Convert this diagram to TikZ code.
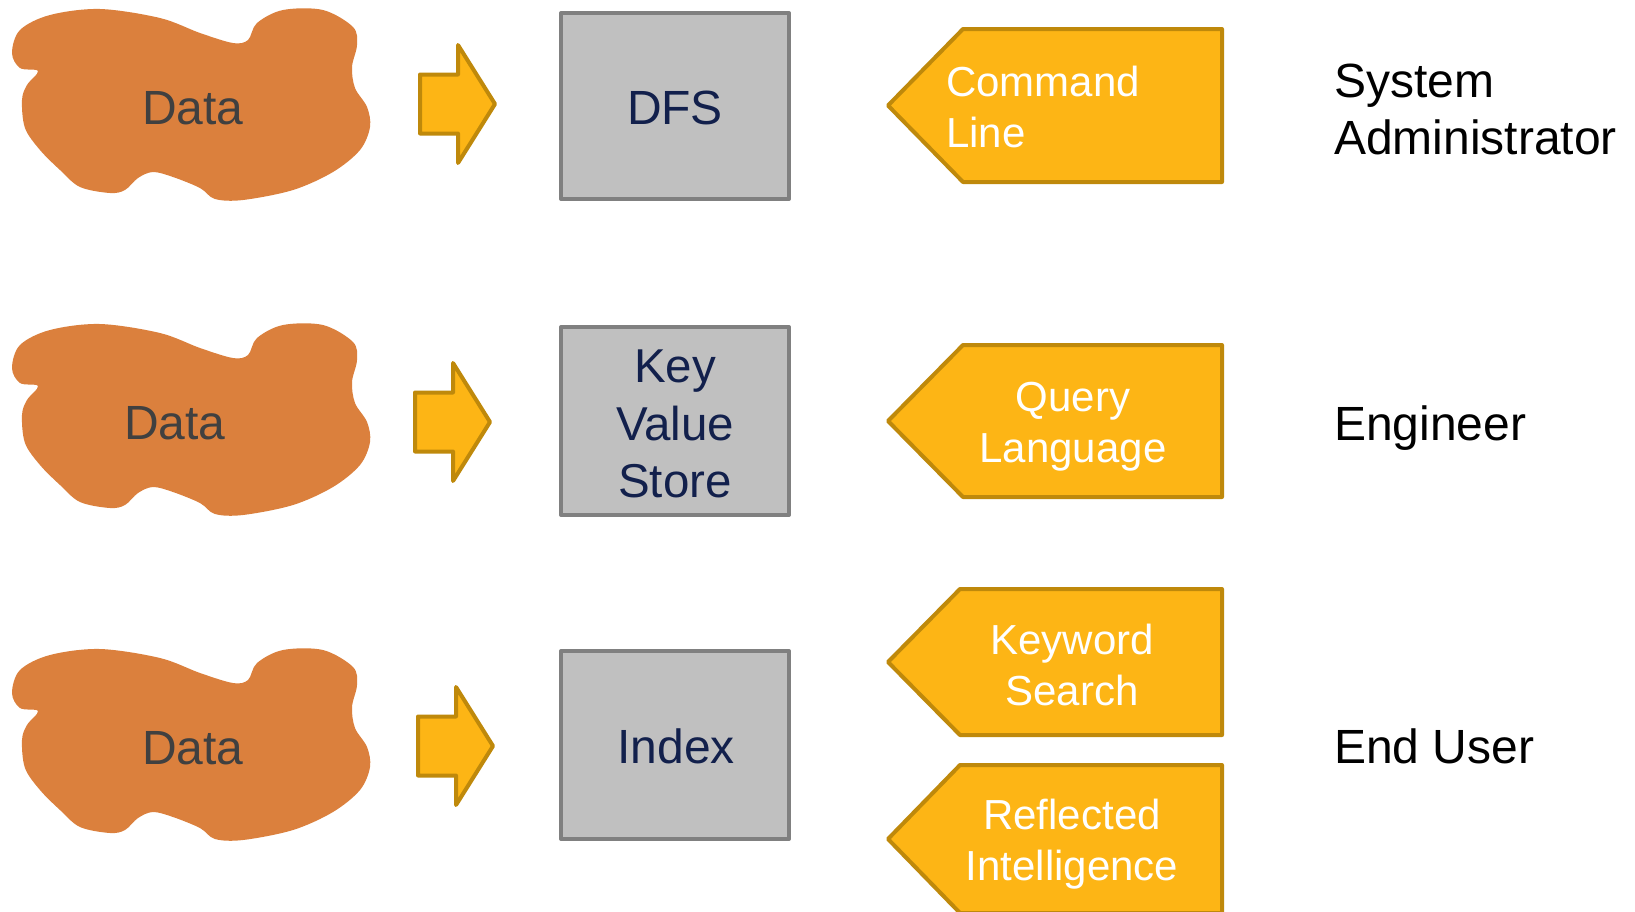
\documentclass[tikz,border=0pt]{standalone}
\usepackage{fontspec}
\setmainfont{Liberation Sans}

\definecolor{blobfill}{RGB}{219,128,61}
\definecolor{gold}{RGB}{253,181,21}
\definecolor{goldline}{RGB}{191,137,11}
\definecolor{boxfill}{RGB}{192,192,192}
\definecolor{boxline}{RGB}{128,128,128}
\definecolor{navy}{RGB}{18,32,76}
\definecolor{ink}{RGB}{64,64,64}

\tikzset{
  blobshape/.style={fill=blobfill},
  datalabel/.style={font=\fontsize{48}{56}\selectfont, text=ink, inner sep=0pt},
  arrowbody/.style={fill=gold, draw=goldline, line width=4pt, line join=round},
  storebox/.style={fill=boxfill, draw=boxline, line width=4pt, line join=round},
  storelabel/.style={text=navy, inner sep=0pt, align=center},
  tagshape/.style={fill=gold, draw=goldline, line width=4pt, line join=round},
  taglabel/.style={font=\fontsize{42}{51}\selectfont, text=white, inner sep=0pt, align=center},
  role/.style={font=\fontsize{48}{57}\selectfont, text=black, inner sep=0pt, align=left},
  % organic cloud of raw data
  datablob/.pic={
    \path[blobshape] plot[smooth cycle, tension=0.55] coordinates {
      (12,53) (20,30) (50,15) (100,9) (160,18) (200,33) (233,43) (248,40)
      (257,23) (283,10) (323,10) (353,27) (357,45) (352,67) (355,88)
      (367,107) (370,127) (360,150) (333,172) (293,190) (243,200) (215,199)
      (200,188) (173,177) (153,172) (138,178) (125,190) (110,193) (80,187)
      (60,170) (40,150) (25,128) (22,100) (27,85) (38,71) (20,68)};
  },
  % thick block arrow pointing right, origin at the middle of its tail
  fatarrow/.pic={
    \draw[arrowbody] (0,-29.5) -- (38,-29.5) -- (38,-59) -- (75,0)
      -- (38,59) -- (38,29.5) -- (0,29.5) -- cycle;
  },
}

\begin{document}
\begin{tikzpicture}[x=1pt, y=-1pt]
\useasboundingbox (0,0) rectangle (1635,911);
\clip (0,0) rectangle (1635,911);
\fill[white] (0,0) rectangle (1635,911);

% ---- raw data clouds ----
\pic (blobA) at (0,0) {datablob};
\pic (blobB) at (0,315) {datablob};
\pic (blobC) at (0,640) {datablob};
\node[datalabel] (dataA) at (193,108) {Data};
\node[datalabel] (dataB) at (175,423) {Data};
\node[datalabel] (dataC) at (193,748) {Data};

% ---- ingest arrows ----
\pic (arrA) at (420,104) {fatarrow};
\pic (arrB) at (415,422) {fatarrow};
\pic (arrC) at (418,746) {fatarrow};

% ---- storage layers ----
\draw[storebox] (561,13) rectangle (789,199);
\draw[storebox] (561,327) rectangle (789,515);
\draw[storebox] (561,651) rectangle (789,839);
\node[storelabel, font=\fontsize{48}{57}\selectfont] (dfs) at (675,108) {DFS};
\node[storelabel, font=\fontsize{47.5}{57.5}\selectfont] (kvs) at (675,424) {Key\\Value\\Store};
\node[storelabel, font=\fontsize{48}{55}\selectfont] (index) at (676,746.5) {Index};

% ---- access interfaces ----
\draw[tagshape] (888,105.5) -- (963,29) -- (1222,29) -- (1222,182) -- (963,182) -- cycle;
\draw[tagshape] (888,421) -- (963,345) -- (1222,345) -- (1222,497) -- (963,497) -- cycle;
\draw[tagshape] (888,662) -- (960,589) -- (1222,589) -- (1222,735) -- (960,735) -- cycle;
\draw[tagshape] (888,839) -- (960,765) -- (1222,765) -- (1222,913) -- (960,913) -- cycle;
\node[taglabel, anchor=west, align=left] (cmd) at (946,107) {Command\\Line};
\node[taglabel] (query) at (1073,427) {Query\\Language};
\node[taglabel] (keyword) at (1072,664.5) {Keyword\\Search};
\node[taglabel] (reflect) at (1072,844.5) {Reflected\\Intelligence};

% ---- user roles ----
\node[role, anchor=west] (admin) at (1334,109) {System\\Administrator};
\node[role, anchor=base west] (engineer) at (1334,440) {Engineer};
\node[role, anchor=base west] (enduser) at (1334,763) {End User};
\end{tikzpicture}
\end{document}
